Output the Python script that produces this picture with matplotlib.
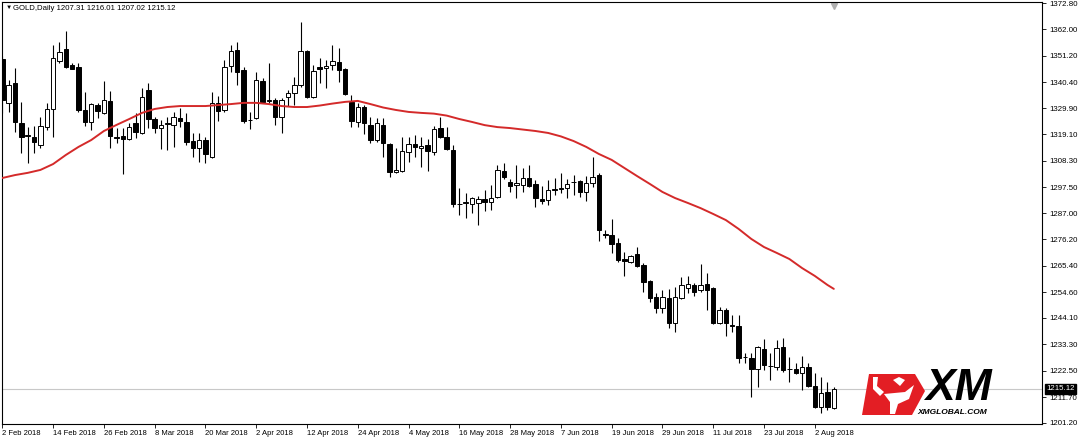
import numpy as np
import matplotlib
matplotlib.use("Agg")
import matplotlib.pyplot as plt
import matplotlib.transforms as mtransforms
from matplotlib.patches import Polygon

# daily bars, 2 Feb 2018 .. 7 Aug 2018 (broker calendar, no Good Friday)
opens = [
    1349.9, 1332.0, 1340.1, 1323.8, 1318.5, 1318.1, 1314.8, 1322.1, 1329.5, 1349.1,
    1354.0, 1347.5, 1346.7, 1329.1, 1324.2, 1331.1, 1327.9, 1332.8, 1318.1, 1318.5,
    1317.2, 1323.8, 1319.7, 1337.3, 1325.4, 1321.7, 1323.4, 1323.0, 1325.8, 1324.2,
    1316.4, 1313.6, 1316.8, 1309.9, 1332.0, 1329.1, 1347.1, 1353.6, 1345.4, 1325.0,
    1325.8, 1340.9, 1332.8, 1333.2, 1326.2, 1334.4, 1336.0, 1339.3, 1353.2, 1334.4,
    1346.7, 1346.3, 1347.5, 1348.7, 1345.8, 1332.4, 1324.2, 1330.3, 1323.0, 1316.8,
    1323.0, 1315.2, 1303.8, 1304.2, 1311.9, 1315.2, 1313.6, 1314.8, 1311.9, 1321.7,
    1318.1, 1312.8, 1290.7, 1291.1, 1290.7, 1291.1, 1292.7, 1291.5, 1293.5, 1304.2,
    1299.7, 1298.4, 1298.4, 1301.3, 1298.9, 1292.7, 1292.3, 1296.8, 1296.8, 1297.2,
    1299.7, 1300.1, 1295.6, 1299.3, 1302.5, 1278.4, 1278.0, 1274.7, 1268.2, 1267.0,
    1270.3, 1265.8, 1259.2, 1252.7, 1248.2, 1252.3, 1242.1, 1252.3, 1256.4, 1257.6,
    1255.5, 1258.0, 1256.4, 1242.1, 1247.4, 1241.2, 1240.8, 1228.2, 1227.8, 1223.3,
    1231.4, 1224.5, 1224.1, 1232.3, 1223.3, 1223.3, 1221.6, 1224.1, 1216.3, 1207.7,
    1213.9, 1207.31,
]
highs = [
    1351.2, 1341.3, 1346.3, 1332.4, 1322.1, 1322.6, 1326.2, 1332.0, 1355.6, 1356.9,
    1361.4, 1348.3, 1348.3, 1336.4, 1332.0, 1332.0, 1340.9, 1336.9, 1321.7, 1321.7,
    1323.8, 1327.9, 1338.1, 1340.1, 1326.2, 1325.0, 1326.2, 1328.3, 1329.9, 1327.9,
    1319.7, 1319.7, 1318.1, 1336.4, 1334.8, 1349.5, 1355.6, 1356.9, 1346.7, 1328.3,
    1344.6, 1342.2, 1348.3, 1334.0, 1334.0, 1337.3, 1342.6, 1365.0, 1353.6, 1347.5,
    1350.3, 1349.5, 1355.6, 1354.4, 1346.3, 1335.2, 1332.0, 1331.1, 1326.2, 1325.8,
    1325.8, 1315.6, 1313.6, 1318.1, 1318.1, 1318.9, 1318.1, 1317.2, 1322.6, 1326.2,
    1322.1, 1314.8, 1297.2, 1295.2, 1293.5, 1294.0, 1296.4, 1298.4, 1306.6, 1307.4,
    1300.9, 1306.6, 1305.4, 1306.6, 1300.5, 1298.0, 1300.5, 1301.3, 1303.4, 1300.9,
    1302.5, 1300.5, 1302.1, 1309.9, 1303.4, 1280.1, 1284.6, 1276.8, 1271.1, 1269.8,
    1273.1, 1266.6, 1259.6, 1254.3, 1255.5, 1256.0, 1256.8, 1260.9, 1261.3, 1258.4,
    1266.2, 1262.5, 1256.8, 1248.6, 1248.2, 1245.3, 1245.3, 1229.8, 1229.8, 1232.6,
    1235.5, 1229.8, 1235.1, 1235.9, 1228.2, 1225.7, 1228.6, 1225.7, 1221.6, 1220.0,
    1218.0, 1216.01,
]
lows = [
    1327.9, 1328.3, 1320.1, 1311.5, 1307.4, 1311.5, 1313.6, 1320.9, 1318.1, 1348.3,
    1346.3, 1345.8, 1328.3, 1322.6, 1320.9, 1325.8, 1327.5, 1313.6, 1315.6, 1302.9,
    1316.8, 1317.7, 1319.3, 1321.7, 1319.7, 1313.2, 1312.8, 1314.0, 1322.1, 1314.8,
    1309.9, 1307.8, 1307.4, 1309.5, 1324.6, 1328.3, 1344.6, 1339.3, 1323.8, 1321.3,
    1325.4, 1332.0, 1332.0, 1323.0, 1319.7, 1330.7, 1331.1, 1338.5, 1334.0, 1334.0,
    1340.1, 1338.1, 1345.4, 1340.5, 1335.2, 1322.1, 1322.1, 1319.3, 1315.6, 1316.0,
    1309.9, 1301.7, 1303.4, 1303.8, 1307.8, 1309.9, 1305.8, 1304.2, 1310.7, 1317.7,
    1312.8, 1289.5, 1286.2, 1285.0, 1287.0, 1282.1, 1287.8, 1288.2, 1293.1, 1300.9,
    1295.6, 1293.1, 1295.6, 1297.6, 1289.5, 1290.7, 1290.3, 1294.4, 1295.2, 1293.1,
    1294.4, 1293.5, 1291.9, 1297.6, 1275.6, 1276.8, 1270.7, 1267.0, 1261.3, 1266.6,
    1264.9, 1254.7, 1250.6, 1246.2, 1246.2, 1240.0, 1238.4, 1251.9, 1254.3, 1253.1,
    1254.7, 1247.4, 1241.7, 1241.7, 1236.8, 1238.4, 1225.7, 1225.7, 1211.8, 1215.9,
    1222.9, 1218.8, 1222.9, 1222.0, 1218.0, 1221.2, 1214.7, 1215.9, 1207.3, 1205.3,
    1206.5, 1207.02,
]
closes = [
    1333.2, 1339.3, 1324.2, 1318.1, 1318.9, 1316.0, 1322.6, 1329.5, 1350.3, 1352.8,
    1346.7, 1345.8, 1329.1, 1324.2, 1331.5, 1328.7, 1333.2, 1318.5, 1317.8, 1317.2,
    1322.1, 1320.1, 1334.4, 1325.4, 1321.7, 1323.0, 1323.8, 1326.2, 1324.6, 1316.0,
    1313.6, 1316.8, 1311.1, 1332.0, 1328.7, 1346.7, 1353.2, 1344.6, 1324.6, 1325.2,
    1341.3, 1332.4, 1333.2, 1326.2, 1333.2, 1336.0, 1339.3, 1353.2, 1334.4, 1345.0,
    1345.8, 1347.1, 1349.1, 1345.4, 1335.6, 1324.6, 1330.3, 1323.8, 1316.8, 1323.8,
    1315.6, 1303.8, 1304.6, 1312.3, 1315.2, 1314.0, 1314.4, 1312.3, 1321.3, 1318.1,
    1313.2, 1290.7, 1290.5, 1291.3, 1293.1, 1292.7, 1291.5, 1293.1, 1304.6, 1301.7,
    1298.0, 1299.3, 1301.3, 1298.0, 1293.1, 1291.9, 1296.4, 1296.6, 1297.2, 1298.9,
    1299.5, 1295.6, 1299.3, 1301.7, 1280.1, 1278.2, 1274.3, 1267.8, 1267.4, 1269.4,
    1265.4, 1258.8, 1252.3, 1248.2, 1252.7, 1242.1, 1252.7, 1257.6, 1258.0, 1254.7,
    1257.6, 1255.5, 1242.1, 1247.4, 1242.1, 1241.0, 1227.8, 1228.0, 1223.3, 1232.3,
    1224.9, 1224.3, 1231.9, 1222.9, 1223.1, 1221.6, 1224.1, 1216.3, 1207.7, 1213.5,
    1207.7, 1215.12,
]

# moving average
ma_idx = [0, 2, 4, 6, 8, 10, 12, 14, 16, 18, 20, 22, 24, 26, 28, 30, 32, 34, 36, 38,
          40, 42, 44, 46, 48, 50, 52, 54, 56, 58, 60, 62, 64, 66, 68, 70, 72, 74, 76,
          78, 80, 82, 84, 86, 88, 90, 92, 94, 96, 98, 100, 102, 104, 106, 108, 110,
          112, 114, 116, 118, 120, 122, 124, 126, 128, 130, 131]
ma_vals = [1301.3, 1302.5, 1303.4, 1304.6, 1307.0, 1310.7, 1314.0, 1316.8, 1320.5,
           1323.0, 1325.4, 1327.9, 1329.5, 1330.3, 1330.7, 1330.7, 1330.7, 1331.1,
           1331.5, 1332.0, 1332.0, 1331.5, 1330.7, 1330.3, 1330.3, 1330.9, 1331.7,
           1332.4, 1332.8, 1331.5, 1330.1, 1329.1, 1328.3, 1327.9, 1327.6, 1326.8,
           1325.4, 1324.2, 1322.9, 1322.1, 1321.7, 1321.1, 1320.5, 1319.7, 1318.3,
           1316.4, 1314.0, 1311.1, 1308.7, 1305.4, 1302.1, 1298.9, 1295.6, 1293.1,
           1291.1, 1289.0, 1286.6, 1284.1, 1280.5, 1276.4, 1273.1, 1270.7, 1268.2,
           1264.5, 1261.3, 1257.6, 1256.0]

date_ticks = [0, 8, 16, 24, 32, 40, 48, 56, 64, 72, 80, 88, 96, 104, 112, 120, 128]
date_labels = ["2 Feb 2018", "14 Feb 2018", "26 Feb 2018", "8 Mar 2018", "20 Mar 2018",
               "2 Apr 2018", "12 Apr 2018", "24 Apr 2018", "4 May 2018", "16 May 2018",
               "28 May 2018", "7 Jun 2018", "19 Jun 2018", "29 Jun 2018", "11 Jul 2018",
               "23 Jul 2018", "2 Aug 2018"]
price_ticks = [1372.80, 1362.00, 1351.20, 1340.40, 1329.90, 1319.10, 1308.30, 1297.50,
               1287.00, 1276.20, 1265.40, 1254.60, 1244.10, 1233.30, 1222.50, 1211.70,
               1201.20]
last_price = 1215.12
header = "GOLD,Daily 1207.31 1216.01 1207.02 1215.12"

FONT = ["Liberation Sans", "DejaVu Sans"]
plt.rcParams["font.family"] = FONT

o = np.array(opens)
h = np.array(highs)
l = np.array(lows)
c = np.array(closes)
x = np.arange(len(o))

fig = plt.figure(figsize=(10.8, 4.41), dpi=100)
ax = fig.add_axes([2 / 1080, 17 / 441, 1040 / 1080, 422 / 441])

up = c >= o
ax.vlines(x, l, h, color="black", lw=0.8, zorder=2)
body_lo = np.minimum(o, c)
body_h = np.maximum(np.abs(c - o), 0.12)
ax.bar(x[up], body_h[up], bottom=body_lo[up], width=0.7, color="white",
       edgecolor="black", lw=0.7, zorder=3)
ax.bar(x[~up], body_h[~up], bottom=body_lo[~up], width=0.7, color="black",
       edgecolor="black", lw=0.7, zorder=3)

ax.plot(ma_idx, ma_vals, color="#d42a2a", lw=1.4, zorder=4,
        solid_capstyle="round", solid_joinstyle="round")

ax.axhline(last_price, color="#c8c8c8", lw=0.8, zorder=1)

ax.set_xlim(-0.05, 163.8)
ax.set_ylim(1200.79, 1373.21)

ax.set_xticks(date_ticks)
ax.set_xticklabels(date_labels, ha="left", fontsize=5.5)
ax.yaxis.tick_right()
ax.set_yticks(price_ticks)
ax.set_yticklabels([f"{v:.2f}" for v in price_ticks], fontsize=5.7)
ax.tick_params(axis="x", direction="out", length=3, width=0.6, pad=1.5)
ax.tick_params(axis="y", direction="out", length=3, width=0.6, pad=2)
for sp in ax.spines.values():
    sp.set_linewidth(0.8)
    sp.set_color("black")

# current price box on the axis
ax.text(1.004, last_price, f"{last_price:.2f}", transform=ax.get_yaxis_transform(),
        fontsize=5.7, color="white", va="center", ha="left",
        bbox=dict(boxstyle="square,pad=0.15", fc="black", ec="black"))

ax.text(0.0035, 0.992, "\u25bc", transform=ax.transAxes, fontsize=4.5,
        va="top", ha="left")
ax.text(0.011, 0.992, header, transform=ax.transAxes, fontsize=5.6,
        va="top", ha="left")

# chart shift marker
blend = mtransforms.blended_transform_factory(ax.transData, ax.transAxes)
ax.plot([131.0], [0.99], marker="v", color="#b0b0b0", ms=4.5,
        transform=blend, clip_on=False)

# XM logo (pixel space overlay)
lg = fig.add_axes([0, 0, 1, 1], zorder=5)
lg.set_xlim(0, 1080)
lg.set_ylim(441, 0)
lg.axis("off")
lg.add_patch(Polygon([(869, 374), (915, 374), (925, 391), (912, 415), (862, 415)],
                     closed=True, fc="#e31e24", ec="none"))
lg.add_patch(Polygon([(873, 377), (878, 377), (877, 386), (884, 392), (880, 396), (873, 389)],
                     closed=True, fc="white", ec="none"))
lg.add_patch(Polygon([(884, 394), (905, 392), (914, 385), (909, 399), (898, 404),
                      (895, 414), (890, 414), (890, 402)],
                     closed=True, fc="white", ec="none"))
lg.add_patch(Polygon([(893, 380), (899, 377), (905, 380), (900, 386)],
                     closed=True, fc="white", ec="none"))
lg.text(958, 389, "XM", fontsize=32, fontweight="bold", fontstyle="italic",
        ha="center", va="center", color="black", family=FONT)
lg.text(952, 412, "XMGLOBAL.COM", fontsize=6, fontweight="bold", fontstyle="italic",
        ha="center", va="center", color="black", family=FONT)

fig.savefig("out.png", dpi=100, facecolor="white")
